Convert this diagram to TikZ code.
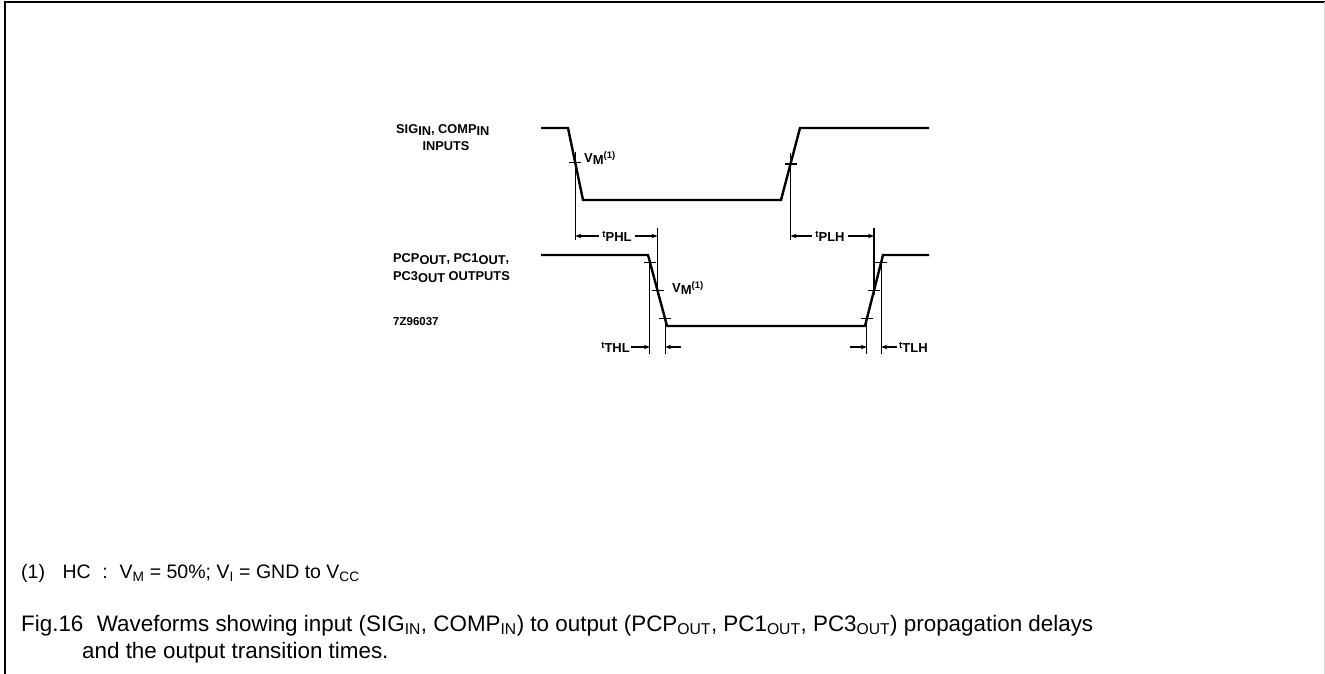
\documentclass[tikz,border=0pt]{standalone}
\usepackage{fontspec}
\setmainfont{Liberation Sans}
\usetikzlibrary{arrows.meta,calc}

% lowered / raised parts of the small labels
\newcommand{\lowpart}[1]{\raisebox{-0.4ex}{#1}}
\newcommand{\highpart}[1]{\raisebox{0.6ex}{\fontsize{9.5}{10}\selectfont #1}}

\tikzset{
  wave/.style={line width=2.4pt, line join=miter},
  refline/.style={line width=1.1pt},
  tickmark/.style={line width=1.1pt},
  dim/.style={line width=1.1pt, -{Stealth[length=6pt,width=4.5pt]}},
  lbl/.style={font=\bfseries\fontsize{12.8}{14}\selectfont, inner sep=0pt},
  tlbl/.style={font=\bfseries\fontsize{13}{14}\selectfont, inner sep=0pt},
  note/.style={font=\fontsize{19.5}{22}\selectfont, inner sep=0pt, anchor=base west},
  capt/.style={font=\fontsize{22.4}{26}\selectfont, inner sep=0pt, anchor=base west}
}

\begin{document}
\begin{tikzpicture}[x=1pt, y=-1pt]
        \useasboundingbox (0,0) rectangle (1325,674);
        %! --- frame ---
        \draw[line width=2pt] (5,674) -- (5,2) -- (1325,2);
        \draw[black!15, line width=1pt] (1324,2) -- (1324,674);

        %! --- input waveform ---
        \coordinate (i0) at (541,128);
        \coordinate (i1) at (568,128);
        \coordinate (i2) at (583,200);
        \coordinate (i3) at (781,200);
        \coordinate (i4) at (800,128);
        \coordinate (i5) at (929,128);
        \draw[wave] (i0) -- (i1) -- (i2) -- (i3) -- (i4) -- (i5);
        % 50% points
        \coordinate (ifall) at ($(i1)!0.48!(i2)$);
        \coordinate (irise) at ($(i3)!0.5!(i4)$);

        %! --- output waveform ---
        \coordinate (o0) at (541,255);
        \coordinate (o1) at (648,255);
        \coordinate (o2) at (667,326);
        \coordinate (o3) at (865,326);
        \coordinate (o4) at (883,255);
        \coordinate (o5) at (929,255);
        \draw[wave] (o0) -- (o1) -- (o2) -- (o3) -- (o4) -- (o5);
        % 10% / 50% / 90% points
        \foreach \k/\f in {a/0.1,b/0.5,c/0.9} {
            \coordinate (ofall\k) at ($(o1)!\f!(o2)$);
            \coordinate (orise\k) at ($(o3)!\f!(o4)$);
        }

        % tick marks on the edges
        \foreach \p in {ifall,irise,ofalla,ofallb,ofallc,orisea,oriseb,orisec} {
            \draw[tickmark] ($(\p)+(-6,0)$) -- ($(\p)+(6,0)$);
        }

        %! --- reference lines ---
        \draw[refline] ($(ifall)+(0,-11)$) -- (ifall |- 0,240);
        \draw[refline] ($(irise)+(0,-11)$) -- (irise |- 0,240);
        \draw[refline] (ofallb |- 0,228) -- ($(ofallb)+(0,4)$);
        \draw[refline] (oriseb |- 0,228) -- ($(oriseb)+(0,4)$);
        \draw[refline] ($(ofalla)+(0,-3)$) -- (ofalla |- 0,354);
        \draw[refline] (ofallc) -- (ofallc |- 0,354);
        \draw[refline] ($(orisec)+(0,-3)$) -- (orisec |- 0,354);
        \draw[refline] (orisea) -- (orisea |- 0,354);

        %! --- labels ---
        \node[lbl, anchor=west] (sig) at (396,130) {SIG\lowpart{IN}, COMP\lowpart{IN}};
        \node[lbl] (inp) at (446,146) {INPUTS};
        \node[lbl, anchor=west] (pcp) at (393,259) {PCP\lowpart{OUT}, PC1\lowpart{OUT},};
        \node[lbl, anchor=west] (pc3) at (393,277) {PC3\lowpart{OUT} OUTPUTS};
        \node[lbl, anchor=west, font=\bfseries\fontsize{11.5}{12}\selectfont] (code) at (393,322) {7Z96037};
        \node[tlbl, anchor=west] (vmin) at (584,158) {V\lowpart{M}\highpart{(1)}};
        \node[tlbl, anchor=west] (vmout) at (672,288) {V\lowpart{M}\highpart{(1)}};

        %! --- delay / transition arrows ---
        \node[tlbl] (tphl) at (617,236) {\highpart{t}PHL};
        \draw[dim] (tphl.west) ++(-3,0) -- (ifall |- tphl);
        \draw[dim] (tphl.east) ++(3,0) -- (ofallb |- tphl);

        \node[tlbl] (tplh) at (830,236) {\highpart{t}PLH};
        \draw[dim] (tplh.west) ++(-3,0) -- (irise |- tplh);
        \draw[dim] (tplh.east) ++(3,0) -- (oriseb |- tplh);

        \node[tlbl, anchor=east] (tthl) at (630,347) {\highpart{t}THL};
        \draw[dim] (tthl.east) ++(1,0) -- (ofalla |- tthl);
        \coordinate (thlr) at (681,347);
        \draw[dim] (thlr) -- (ofallc |- thlr);

        \node[tlbl, anchor=west] (ttlh) at (899,347) {\highpart{t}TLH};
        \draw[dim] (ttlh.west) ++(-2,0) -- (orisec |- ttlh);
        \coordinate (tlhl) at (850,347);
        \draw[dim] (tlhl) -- (orisea |- tlhl);

        %! --- note and caption ---
        \node[note] (fn) at (21,578) {(1)\hspace{0.9em}HC\hspace{0.6em}:\hspace{0.6em}V\textsubscript{M} = 50\%; V\textsubscript{I} = GND to V\textsubscript{CC}};
        \node[capt] (cap1) at (21,631) {Fig.16\hspace{0.6em}Waveforms showing input (SIG\textsubscript{IN}, COMP\textsubscript{IN}) to output (PCP\textsubscript{OUT}, PC1\textsubscript{OUT}, PC3\textsubscript{OUT}) propagation delays};
        \node[capt] (cap2) at (82,658) {and the output transition times.};
\end{tikzpicture}
\end{document}
